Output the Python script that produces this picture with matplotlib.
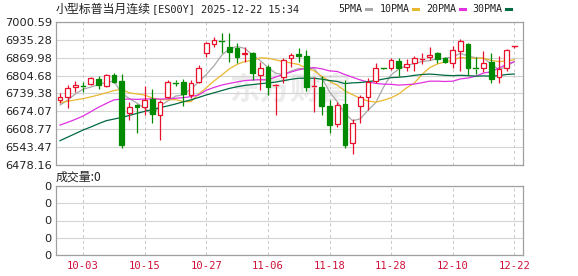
import matplotlib
matplotlib.use("Agg")
import matplotlib.pyplot as plt
import numpy as np
import pandas as pd

# ---------------- data ----------------
opens = [6715.7, 6727.8, 6761.9, 6766.8, 6772.9, 6792.4, 6768.0, 6807.0, 6786.3, 6666.9,
         6697.4, 6688.9, 6718.1, 6660.8, 6727.8, 6780.2, 6782.6, 6733.9, 6782.6, 6886.1,
         6919.0, 6934.8, 6908.1, 6904.4, 6882.5, 6886.1, 6807.0, 6837.4, 6766.8, 6798.4,
         6867.9, 6882.5, 6876.4, 6764.4, 6761.9, 6693.7, 6628.0, 6701.0, 6559.8, 6693.7,
         6727.8, 6785.1, 6835.0, 6833.8, 6858.1, 6835.0, 6849.6, 6865.4, 6873.9, 6886.1,
         6867.9, 6852.0, 6895.9, 6919.0, 6832.6, 6831.3, 6855.7, 6798.4, 6831.3, 6912.0]
highs = [6740.0, 6770.5, 6785.1, 6782.6, 6799.7, 6803.3, 6810.6, 6815.5, 6810.6, 6709.5,
         6701.0, 6766.8, 6754.6, 6715.7, 6788.7, 6788.7, 6791.1, 6788.7, 6843.5, 6928.8,
         6947.0, 6959.2, 6961.6, 6925.1, 6910.5, 6892.2, 6855.7, 6843.5, 6772.9, 6867.9,
         6886.1, 6904.4, 6898.3, 6800.9, 6803.3, 6715.7, 6709.5, 6788.7, 6645.0, 6733.9,
         6794.8, 6852.0, 6838.0, 6867.9, 6867.9, 6864.2, 6876.4, 6886.1, 6910.5, 6892.2,
         6873.9, 6912.9, 6937.3, 6922.7, 6874.0, 6895.9, 6888.6, 6876.4, 6900.7, 6914.5]
lows = [6703.5, 6685.2, 6746.1, 6746.1, 6769.2, 6754.6, 6761.9, 6776.5, 6540.0, 6642.6,
        6596.3, 6660.8, 6632.8, 6569.5, 6721.7, 6767.0, 6693.7, 6721.7, 6779.0, 6873.9,
        6910.5, 6888.6, 6855.7, 6849.6, 6855.7, 6788.7, 6752.2, 6733.9, 6660.8, 6776.5,
        6837.4, 6855.7, 6749.7, 6673.0, 6660.8, 6596.3, 6615.8, 6540.0, 6520.0, 6630.4,
        6679.1, 6776.5, 6830.0, 6825.3, 6803.3, 6822.8, 6822.8, 6847.2, 6861.8, 6849.6,
        6849.6, 6831.3, 6822.8, 6807.0, 6810.6, 6819.2, 6779.0, 6776.5, 6822.8, 6904.4]
closes = [6727.8, 6758.3, 6770.5, 6763.1, 6794.8, 6770.5, 6807.0, 6782.6, 6551.3, 6691.3,
          6688.9, 6715.7, 6664.5, 6709.5, 6782.6, 6776.5, 6737.6, 6776.5, 6831.3, 6922.7,
          6934.8, 6931.2, 6892.2, 6873.9, 6888.6, 6813.0, 6831.3, 6764.4, 6770.5, 6861.8,
          6880.0, 6877.6, 6764.4, 6768.0, 6693.7, 6624.3, 6697.4, 6551.3, 6632.8, 6727.8,
          6782.6, 6833.8, 6832.6, 6861.8, 6831.3, 6847.2, 6870.3, 6869.0, 6880.0, 6864.2,
          6855.7, 6898.3, 6931.2, 6833.8, 6829.0, 6849.6, 6791.1, 6827.7, 6898.3, 6914.2]

# moving-average values read from the chart where earlier history is not shown
ma5_head = [6697, 6715, 6738, 6755]
ma10_head = [6706, 6711, 6716, 6721, 6727, 6734, 6742, 6750, 6755]
ma20_head = [6624, 6634, 6645, 6657, 6673, 6689, 6703, 6716, 6719, 6719,
             6718, 6719, 6720, 6719, 6720, 6722, 6724, 6728, 6734]
ma30_head = [6567, 6580, 6593, 6606, 6617, 6629, 6640, 6646, 6652, 6659,
             6667, 6674, 6681, 6688, 6694, 6701, 6709, 6716, 6725, 6734,
             6742, 6750, 6758, 6764, 6769, 6772, 6775, 6778, 6781]

x_labels = ["10-03", "10-15", "10-27", "11-06", "11-18", "11-28", "12-10", "12-22"]
x_label_idx = [3, 11, 19, 27, 35, 43, 51, 59]
y_tick_vals = [6478.16, 6543.47, 6608.77, 6674.07, 6739.38, 6804.68, 6869.98, 6935.28, 7000.59]
y_tick_labels = ["6478.16", "6543.47", "6608.77", "6674.07", "6739.38", "6804.68",
                 "6869.98", "6935.28", "7000.59"]
title_cn = "小型标普当月连续"
title_code = "[ES00Y] 2025-12-22 15:34"
ma_names = ["5PMA", "10PMA", "20PMA", "30PMA"]
vol_label = "成交量:0"
watermark = "东方财富"

# ---------------- styles ----------------
CJK = ["Noto Sans CJK SC", "DejaVu Sans"]
MONO = ["DejaVu Sans Mono", "Noto Sans CJK SC"]
RED = "#e8102a"
GREEN = "#008a00"
MA_COLORS = ["#a8a8a8", "#e8b830", "#e030e0", "#006a40"]
GRID = "#d4d4d4"
SPINE = "#a0a0a0"
TXT = "#222222"

W, H = 578, 276
fig = plt.figure(figsize=(W / 100, H / 100), dpi=100)

def fx(px):
    return px / W

def fy(py):
    return 1 - py / H

main_l, main_r, main_t, main_b = 56, 523, 22, 165
ax = fig.add_axes([fx(main_l), fy(main_b), fx(main_r - main_l), fy(main_t) - fy(main_b)])
axv = fig.add_axes([fx(main_l), fy(255), fx(main_r - main_l), fy(186) - fy(255)])

n = len(closes)
idx = np.arange(n)
xlim = (-0.52, 60.13)

# moving averages
cs = pd.Series(closes)
def build_ma(win, head):
    roll = cs.rolling(win).mean().to_numpy()
    out = roll.copy()
    out[:len(head)] = head
    return out

mas = [build_ma(5, ma5_head), build_ma(10, ma10_head),
       build_ma(20, ma20_head), build_ma(30, ma30_head)]

# watermark (inside the price axes, behind everything)
wx = (290 - main_l) / (main_r - main_l)
wy = (main_b - 90) / (main_b - main_t)
ax.text(wx, wy, watermark, transform=ax.transAxes, fontsize=22, color="#ececec",
        family=CJK, fontweight="bold", ha="center", va="center", zorder=0.5, style="italic")

# grid
for v in y_tick_vals:
    ax.axhline(v, color=GRID, lw=0.8, zorder=1)
for xi in x_label_idx:
    ax.axvline(xi, color="#c8c8c8", lw=0.7, ls=(0, (3, 3)), zorder=1)
    axv.axvline(xi, color="#c8c8c8", lw=0.7, ls=(0, (3, 3)), zorder=1)

# MA lines
for m, c in zip(mas, MA_COLORS):
    ax.plot(idx, m, color=c, lw=0.9, zorder=2)

# candles
bw = 0.62
for i in range(n):
    o, h, l, c = opens[i], highs[i], lows[i], closes[i]
    up = c >= o
    col = RED if up else GREEN
    top, bot = max(o, c), min(o, c)
    ax.plot([i, i], [top, h], color=col, lw=0.9, zorder=3, solid_capstyle="butt")
    ax.plot([i, i], [l, bot], color=col, lw=0.9, zorder=3, solid_capstyle="butt")
    hgt = top - bot
    if hgt < 4:
        ax.plot([i - bw / 2, i + bw / 2], [(top + bot) / 2] * 2, color=col, lw=1.0, zorder=4)
    else:
        if up:
            ax.add_patch(plt.Rectangle((i - bw / 2, bot), bw, hgt, facecolor="white",
                                       edgecolor=col, lw=0.9, zorder=4))
        else:
            ax.add_patch(plt.Rectangle((i - bw / 2, bot), bw, hgt, facecolor=col,
                                       edgecolor=col, lw=0.9, zorder=4))

ax.set_xlim(*xlim)
ax.set_ylim(y_tick_vals[0], y_tick_vals[-1])
ax.set_yticks(y_tick_vals)
ax.set_yticklabels(y_tick_labels, fontsize=8.2, color=TXT)
ax.set_xticks([])
ax.tick_params(axis="y", length=0, pad=3)
for s in ax.spines.values():
    s.set_color(SPINE)
    s.set_linewidth(0.9)

# volume panel
vol_ticks = [0, 1, 2, 3, 4]
axv.set_xlim(*xlim)
axv.set_ylim(0, 4)
for v in vol_ticks:
    axv.axhline(v, color=GRID, lw=0.8, zorder=1)
axv.set_yticks(vol_ticks)
axv.set_yticklabels(["0"] * len(vol_ticks), fontsize=8.2, color=TXT)
axv.set_xticks(x_label_idx)
axv.set_xticklabels(x_labels, fontsize=7.6, color="#d0103a", family=MONO)
axv.tick_params(axis="both", length=0, pad=3)
axv.tick_params(axis="x", pad=4)
for s in axv.spines.values():
    s.set_color(SPINE)
    s.set_linewidth(0.9)

# texts
fig.text(fx(56), fy(9), title_cn, fontsize=8.6, color=TXT, family=CJK, va="center", ha="left")
fig.text(fx(152), fy(9), title_code, fontsize=7.4, color=TXT, family=MONO, va="center", ha="left")
fig.text(fx(56), fy(177), vol_label, fontsize=8.6, color=TXT, family=CJK, va="center", ha="left")

leg_x = [338, 380, 426, 472]
dash_x = [366, 413, 460, 506]
for name, c, tx, dx in zip(ma_names, MA_COLORS, leg_x, dash_x):
    fig.text(fx(tx), fy(9), name, fontsize=7.2, color=TXT, family=MONO, va="center", ha="left")
    fig.add_artist(plt.Line2D([fx(dx), fx(dx + 5)], [fy(9), fy(9)], color=c, lw=2.2,
                              transform=fig.transFigure))

fig.savefig("out.png", dpi=100)
